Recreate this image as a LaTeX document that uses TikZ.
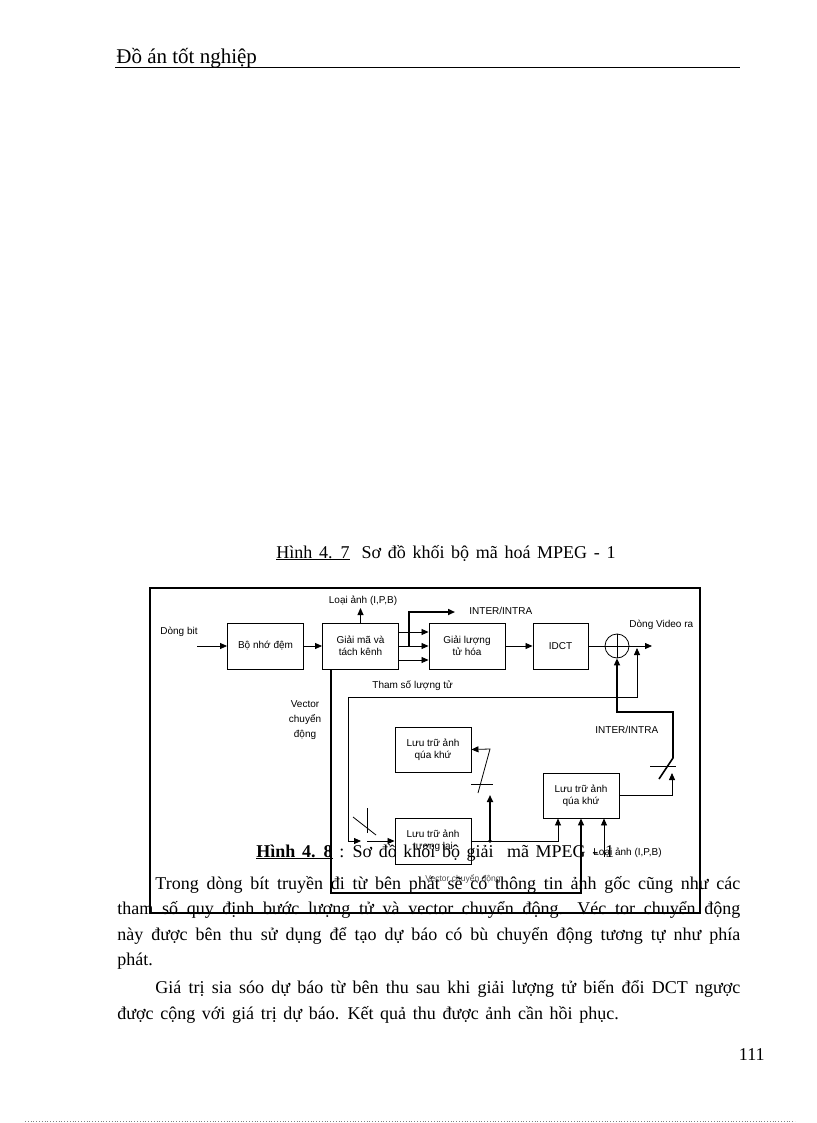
\documentclass[tikz,border=0pt]{standalone}
\usepackage{fontspec}
\setmainfont{Liberation Serif}
\newfontfamily\arialfont{Liberation Sans}
\usepackage{tikz}
\usetikzlibrary{arrows.meta,positioning,calc}
\newcommand{\dgfont}{\arialfont\fontsize{10}{12}\selectfont}
\newcommand{\txtfont}{\fontsize{18}{21}\selectfont\spaceskip=0.37em plus 0.3em minus 0.1em\relax}
\tikzset{
  blk/.style={draw, line width=0.9pt, minimum width=76pt, minimum height=46pt,
    align=center, font=\dgfont, inner sep=1pt},
  lbl/.style={font=\dgfont, inner sep=0pt, align=center},
  thk/.style={line width=1.6pt},
  body/.style={anchor=base west, inner sep=0pt, font=\txtfont},
}

\begin{document}
\begin{tikzpicture}[x=1pt, y=-1pt, >={Triangle[length=7pt,width=6pt]}, line width=0.8pt]
\useasboundingbox (0,0) rectangle (816,1123);
% page header
\node[anchor=base west, inner sep=0pt, font=\fontsize{21}{24}\selectfont] (head) at (116,64) {Đồ án tốt nghiệp};
\draw[line width=0.7pt] (115,67) -- (740,67);
\node[body] (cap1) at (276,558) {\underline{Hình 4. 7}\hspace{12pt}Sơ đồ khối bộ mã hoá MPEG - 1};

% frame of the figure
\draw[line width=1.4pt] (150,588) rectangle (700,913);

% blocks
\node[blk] (buf) at (265.5,646) {Bộ nhớ đệm};
\node[blk] (dmx) at (360.5,646) {Giải mã và\\tách kênh};
\node[blk] (iq) at (467,646) {Giải lượng\\tử hóa};
\node[blk, minimum width=55pt] (idct) at (560.5,646) {IDCT};
\node[draw, circle, minimum size=24pt, inner sep=0pt] (sum) at (617,646) {};
\draw (sum.north) -- (sum.south) (sum.west) -- (sum.east);
\node[blk, minimum height=45pt] (past) at (433,749.5) {Lưu trữ ảnh\\qúa khứ};
\node[blk] (fut) at (433,841) {Lưu trữ ảnh\\tương lai};
\node[blk, minimum height=45pt] (pastb) at (581,795.5) {Lưu trữ ảnh\\qúa khứ};

% labels
\node[lbl, anchor=base west] (bitin) at (160,634) {Dòng bit};
\node[lbl, anchor=base] (ptype) at (363,603) {Loại ảnh (I,P,B)};
\node[lbl, anchor=west] (mode) at (469,611) {INTER/INTRA};
\node[lbl, anchor=base west] (outlbl) at (629,627) {Dòng Video ra};
\node[lbl, anchor=base west] (qlbl) at (372,688) {Tham số lượng tử};
\node[lbl, font=\arialfont\fontsize{10}{15}\selectfont] (mvlbl) at (305,720) {Vector\\chuyển\\động};
\node[lbl, anchor=base west] (modeb) at (595,733) {INTER/INTRA};
\node[lbl, anchor=base west] (ptypeb) at (593,855) {Loại ảnh (I,P,B)};
\node[lbl, font=\arialfont\fontsize{8.5}{10}\selectfont, text=black!70] (mvlblb) at (463,879) {Vector chuyển động};

% forward path
\coordinate (in) at (197,646);
\coordinate (ptup) at (360.5,608);
\coordinate (modeup) at (455,612);
\coordinate (out) at (652,646);
\draw[->] (in) -- (buf);
\draw[->] (buf) -- (dmx);
\draw[->] (dmx.north) -- (ptup);
\foreach \dy in {-14,0,14}
  \draw[->] ([yshift=\dy pt]dmx.east) -- ([yshift=\dy pt]iq.west);
\draw[->, thk] ([xshift=10pt]dmx.east) |- (modeup);
\draw[->] (iq) -- (idct);
\draw (idct) -- (sum);
\draw[->] (sum) -- (out);

% quantiser parameter loop
\coordinate (qa) at (637,648);
\coordinate (qb) at (361,841);
\draw[<->] (qa) |- (348,697) |- (qb);
\draw (367,808) -- (367,833);
\draw (353,817) -- (376,835);
\draw[->] (367,841) -- (fut.west);

% vector path
\coordinate (mvb) at (581,893);
\draw[->, line width=1.3pt] ([xshift=-29.5pt]dmx.south) |- (mvb) -- (pastb.south);

% stores and switches
\coordinate (fj) at (490,841);
\coordinate (sw) at (490,795);
\draw (fut.east) -- (fj);
\draw[->] (fj) -| ([xshift=-23pt]pastb.south);
\fill (fj) circle (1.8pt);
\draw[->, thk] (fj) -- (sw);
\draw (471,784) -- (493,784);
\draw[->] (478,793) -- (490,749) -- (past.east);
\draw[->] (pastb.east) -| (672,773);
\draw (650,766) -- (676,766);
\draw[->, thk] (659,779) -- (673,758) -- (673,712) -| (sum.south);
\coordinate (ptb) at (604,857);
\draw[->] (ptb) -- ([xshift=23pt]pastb.south);

% text of the page
\node[body] (cap2) at (256,857) {\textbf{\underline{Hình 4. 8}} : Sơ đồ khối bộ giải\ \ mã MPEG - 1};
\node[body] (l1) at (155,889) {\makebox[585pt][s]{Trong dòng bít truyền đi từ bên phát sẽ có thông tin ảnh gốc cũng như các}};
\node[body] (l2) at (117,914) {\makebox[623pt][s]{tham số quy định bước lượng tử và vector chuyển động. Véc tor chuyển động}};
\node[body] (l3) at (117,940) {\makebox[623pt][s]{này được bên thu sử dụng để tạo dự báo có bù chuyển động tương tự như phía}};
\node[body] (l4) at (117,965) {phát.};
\node[body] (l5) at (155,993) {\makebox[585pt][s]{Giá trị sia sóo dự báo từ bên thu sau khi giải lượng tử biến đổi DCT ngược}};
\node[body] (l6) at (117,1019) {được cộng với giá trị dự báo. Kết quả thu được ảnh cần hồi phục.};
\node[anchor=base east, inner sep=0pt, font=\txtfont] (pg) at (765,1060) {111};
\draw[dotted, gray] (25,1121) -- (795,1121);
\end{tikzpicture}
\end{document}
